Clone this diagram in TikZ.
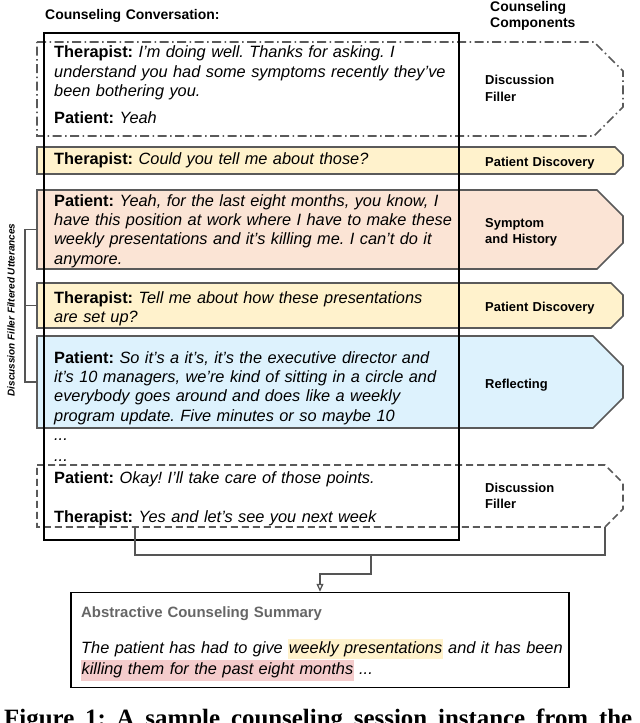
\documentclass[tikz,border=0pt]{standalone}
\usepackage{fontspec}
\setmainfont{Liberation Sans}
\newfontfamily\capfont{Liberation Serif}
\usetikzlibrary{arrows.meta, positioning, calc}
\definecolor{pdyellow}{HTML}{FFF2CC}
\definecolor{shpeach}{HTML}{FBE4D5}
\definecolor{refblue}{HTML}{DDF2FD}
\definecolor{bandgray}{HTML}{5A5A5A}
\definecolor{conngray}{HTML}{555555}
\definecolor{titlegray}{HTML}{666666}
\definecolor{hlpink}{HTML}{F4CCCC}

% one coloured band of the components column
\newcommand{\band}[5][]{%
  \draw[band, #1] (37,#3) -- ({623-#5},#3) -- (623,{#3+#5}) -- (623,{#4-#5})
    -- ({623-#5},#4) -- (37,#4) -- cycle;
  \coordinate (#2-w) at (37,{(#3+#4)/2});
  \coordinate (#2-s) at ({623-#5},#4);
}
\newcommand{\hl}[2]{{\setlength{\fboxsep}{0.5bp}\colorbox{#1}{\strut #2}}}
\frenchspacing

\begin{document}
\begin{tikzpicture}[
  x=1bp, y=-1bp,
  utt/.style={anchor=base west, inner sep=0, text width=420bp, align=left, font=\fontsize{16.4}{19.5}\selectfont},
  lab/.style={anchor=base west, inner sep=0, text width=160bp, align=left, font=\bfseries\fontsize{13}{16.5}\selectfont},
  head/.style={lab, text width=300bp, font=\bfseries\fontsize{14}{16}\selectfont},
  band/.style={draw=bandgray, line width=1.6bp},
  dfdashdot/.style={fill=none, dash pattern=on 9bp off 3.5bp on 1.5bp off 3.5bp},
  dfdash/.style={fill=none, dash pattern=on 7bp off 4bp},
  conn/.style={draw=conngray, line width=1.3bp},
  boxline/.style={draw=black, line width=1.5bp}
]
  \useasboundingbox (0,0) rectangle (640,723);

  % headers
  \node[head] (convhead) at (45,20) {Counseling Conversation:};
  \node[head] (comphead) at (490,12) {Counseling\\Components};

  % component bands
  \band[dfdashdot]{df1}{42}{136}{29}
  \band[fill=pdyellow]{pd1}{147}{174}{8}
  \band[fill=shpeach]{sh}{190}{269}{26}
  \band[fill=pdyellow]{pd2}{283}{328}{12}
  \band[fill=refblue]{ref}{336}{428}{30}
  \band[dfdash]{df2}{465}{527}{18}

  % conversation box
  \node[boxline, minimum width=415bp, minimum height=507bp, inner sep=0] (conv) at (251.5,286.5) {};

  % utterances
  \node[utt] (u1) at (54,58) {\textbf{Therapist:} \textit{I'm doing well. Thanks for asking. I\\understand you had some symptoms recently they've\\been bothering you.}};
  \node[utt] (u2) at (54,124) {\textbf{Patient:} \textit{Yeah}};
  \node[utt] (u3) at (54,164) {\textbf{Therapist:} \textit{Could you tell me about those?}};
  \node[utt] (u4) at (54,206) {\textbf{Patient:} \textit{Yeah, for the last eight months, you know, I\\have this position at work where I have to make these\\weekly presentations and it's killing me. I can't do it\\anymore.}};
  \node[utt] (u5) at (54,303) {\textbf{Therapist:} \textit{Tell me about how these presentations\\are set up?}};
  \node[utt] (u6) at (54,363) {\textbf{Patient:} \textit{So it's a it's, it's the executive director and\\it's 10 managers, we're kind of sitting in a circle and\\everybody goes around and does like a weekly\\program update. Five minutes or so maybe 10}};
  \node[utt] (dots1) at (54,440) {\textit{...}};
  \node[utt] (dots2) at (54,461) {\textit{...}};
  \node[utt] (u7) at (54,483) {\textbf{Patient:} \textit{Okay! I’ll take care of those points.}};
  \node[utt] (u8) at (54,522) {\textbf{Therapist:} \textit{Yes and let’s see you next week}};

  % component labels
  \node[lab] (l1) at (485,85) {Discussion\\Filler};
  \node[lab] (l2) at (485,166) {Patient Discovery};
  \node[lab] (l3) at (485,227) {Symptom\\and History};
  \node[lab] (l4) at (485,311) {Patient Discovery};
  \node[lab] (l5) at (485,388) {Reflecting};
  \node[lab] (l6) at (485,492) {Discussion\\Filler};

  % filtered utterances bracket
  \draw[conn] (sh-w) -- ++(-12,0) |- (ref-w);
  \draw[conn] (pd2-w) -- ++(-12,0);
  \node[rotate=90, inner sep=0, font=\bfseries\itshape\fontsize{10}{12}\selectfont] (filt) at (11,310) {Discussion Filler Filtered Utterances};

  % summary
  \node[boxline, minimum width=498bp, minimum height=95bp, inner sep=0] (sum) at (320,640) {};
  \node[lab, text width=300bp, text=titlegray, font=\bfseries\fontsize{15}{18}\selectfont] (sumtitle) at (81,617) {Abstractive Counseling Summary};
  \node[utt, text width=500bp] (sumtext) at (81,653) {\textit{The patient has had to give \hl{pdyellow}{weekly presentations} and it has been\\\hl{hlpink}{killing them for the past eight months} ...}};

  % connector to the summary
  \coordinate (df2-a) at (135,527);
  \coordinate (join) at (371,555);
  \draw[conn] (df2-a) |- (join) -| (df2-s);
  \draw[conn, -{Triangle[open, length=8bp, width=7bp]}] (join) -- ++(0,19) -| (sum.north);

  % caption
  \node[anchor=base west, inner sep=0, font=\capfont\bfseries\fontsize{25}{30}\selectfont] (cap) at (4,726) {\makebox[628bp][s]{Figure 1: A sample counseling session instance from the}};
\end{tikzpicture}
\end{document}
